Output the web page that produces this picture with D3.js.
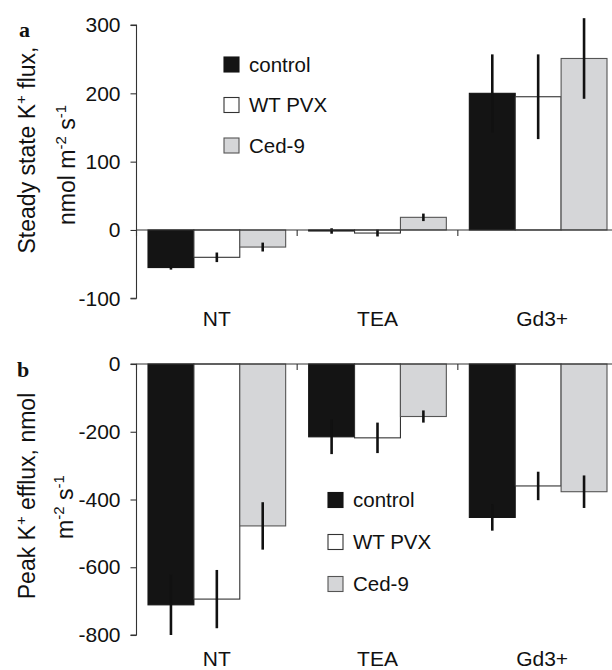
<!DOCTYPE html>
<html><head><meta charset="utf-8">
<script src="https://cdn.jsdelivr.net/npm/d3@7"></script>
<style>html,body{margin:0;padding:0;background:#fff;} svg{display:block;}</style>
</head><body>
<script>
const categories = ["NT", "TEA", "Gd3+"];
const seriesNames = ["control", "WT PVX", "Ced-9"];

// Panel a: steady state K+ flux
const steadyControl = [-55, -1.5, 200];
const steadyControlErr = [3, 4, 57];
const steadyWT = [-40, -4.5, 195];
const steadyWTErr = [7, 5, 62];
const steadyCed = [-25, 18.5, 251];
const steadyCedErr = [6.5, 5.5, 59];
const steadyTicks = [-100, 0, 100, 200, 300];

// Panel b: peak K+ efflux
const peakControl = [-711, -215, -453];
const peakControlErr = [89, 51, 39];
const peakWT = [-694, -218, -360];
const peakWTErr = [86, 45, 42];
const peakCed = [-478, -155, -377];
const peakCedErr = [70, 18, 48];
const peakTicks = [-800, -600, -400, -200, 0];

const fills = ["#141414", "#ffffff", "#d5d6d8"];
const strokes = ["#141414", "#333333", "#555555"];
const FONT = "'Liberation Sans', Arial, Helvetica, sans-serif";

const svg = d3.select("body").append("svg").attr("width", 612).attr("height", 670);

const x0 = d3.scaleBand().domain(categories).range([136.5, 618.5]).padding(0);
const x1 = d3.scaleBand().domain(seriesNames).range([11.5, x0.step() - 11.5]).padding(0);

function panel(opts) {
  const g = svg.append("g");
  const y = d3.scaleLinear().domain(opts.domain).range(opts.range);
  const rows = [];
  opts.values.forEach((vals, si) => {
    vals.forEach((v, ci) => rows.push({cat: categories[ci], s: seriesNames[si], si, v, e: opts.errs[si][ci]}));
  });
  // bars
  g.selectAll("rect.bar").data(rows).join("rect")
    .attr("x", d => x0(d.cat) + x1(d.s))
    .attr("width", x1.bandwidth())
    .attr("y", d => y(Math.max(0, d.v)))
    .attr("height", d => Math.abs(y(d.v) - y(0)))
    .attr("fill", d => fills[d.si])
    .attr("stroke", d => strokes[d.si])
    .attr("stroke-width", 1.1);
  // error bars
  g.selectAll("line.err").data(rows).join("line")
    .attr("x1", d => x0(d.cat) + x1(d.s) + x1.bandwidth() / 2)
    .attr("x2", d => x0(d.cat) + x1(d.s) + x1.bandwidth() / 2)
    .attr("y1", d => y(d.v - d.e))
    .attr("y2", d => y(d.v + d.e))
    .attr("stroke", "#111").attr("stroke-width", 2.6);
  // y axis
  const ya = d3.axisLeft(y).tickValues(opts.ticks).tickSize(6).tickPadding(10).tickFormat(d3.format("d"));
  const yg = g.append("g").attr("transform", "translate(136.5,0)").call(ya);
  yg.select(".domain").attr("stroke", "#333").attr("stroke-width", 1.1).attr("d", `M-6,${opts.range[1]}H0V${opts.range[0]}H-6`);
  yg.selectAll(".tick line").attr("stroke", "#333").attr("stroke-width", 1.1);
  yg.selectAll(".tick text").attr("font-family", FONT).attr("font-size", 21).attr("fill", "#111")
    .text(d => d < 0 ? "-" + Math.abs(d) : d);
  // zero line + category boundary ticks
  const boundaries = categories.map(c => x0(c));
  g.append("line").attr("x1", 136.5).attr("x2", 618.5).attr("y1", y(0)).attr("y2", y(0))
    .attr("stroke", "#333").attr("stroke-width", 1.2);
  g.selectAll("line.bt").data(boundaries).join("line")
    .attr("x1", d => d).attr("x2", d => d).attr("y1", y(0)).attr("y2", y(0) + 6)
    .attr("stroke", "#333").attr("stroke-width", 1.1);
  // category labels
  g.selectAll("text.cat").data(categories).join("text")
    .attr("x", c => x0(c) + x0.bandwidth() / 2 + (c === "Gd3+" ? 4 : 0))
    .attr("y", opts.catY)
    .attr("text-anchor", "middle").attr("font-family", FONT).attr("font-size", 21).attr("fill", "#111")
    .text(c => c);
  // legend
  const lg = g.append("g");
  seriesNames.forEach((s, i) => {
    const cy = opts.legY + i * opts.legStep;
    lg.append("rect").attr("x", opts.legX).attr("y", cy - 7.5).attr("width", 15).attr("height", 15)
      .attr("fill", fills[i]).attr("stroke", strokes[i]).attr("stroke-width", 1.1);
    lg.append("text").attr("x", opts.legX + 25).attr("y", cy).attr("dy", "0.36em")
      .attr("font-family", FONT).attr("font-size", 20.5).attr("fill", "#111").text(s);
  });
  // panel letter
  g.append("text").attr("x", opts.letterX).attr("y", opts.letterY)
    .attr("font-family", "'Liberation Serif', 'Times New Roman', serif").attr("font-weight", "bold")
    .attr("font-size", 22).attr("fill", "#111").text(opts.letter);
  // y labels
  opts.ylabel.forEach(line => {
    const t = g.append("text").attr("transform", `translate(${line.x},${line.y}) rotate(-90)`)
      .attr("text-anchor", "middle").attr("font-family", FONT).attr("font-size", 23).attr("fill", "#111");
    line.parts.forEach(p => {
      const ts = t.append("tspan").text(p.t);
      if (p.sup) ts.attr("font-size", 15).attr("dy", -9);
      else if (p.after) ts.attr("dy", 9);
    });
  });
}

panel({
  domain: [-100, 300], range: [298.3, 25], ticks: steadyTicks,
  values: [steadyControl, steadyWT, steadyCed],
  errs: [steadyControlErr, steadyWTErr, steadyCedErr],
  catY: 326, legX: 224, legY: 64.5, legStep: 40.5,
  letter: "a", letterX: 19, letterY: 37,
  ylabel: [
    {x: 35, y: 150, parts: [{t: "Steady state K"}, {t: "+", sup: true}, {t: " flux,", after: true}]},
    {x: 75, y: 165, parts: [{t: "nmol m"}, {t: "-2", sup: true}, {t: " s", after: true}, {t: "-1", sup: true}]}
  ]
});

panel({
  domain: [-800, 0], range: [635, 364], ticks: peakTicks,
  values: [peakControl, peakWT, peakCed],
  errs: [peakControlErr, peakWTErr, peakCedErr],
  catY: 666, legX: 328, legY: 500, legStep: 42,
  letter: "b", letterX: 17, letterY: 377,
  ylabel: [
    {x: 35, y: 496, parts: [{t: "Peak K"}, {t: "+", sup: true}, {t: " efflux, nmol", after: true}]},
    {x: 73, y: 507, parts: [{t: "m"}, {t: "-2", sup: true}, {t: " s", after: true}, {t: "-1", sup: true}]}
  ]
});
</script>
</body></html>
